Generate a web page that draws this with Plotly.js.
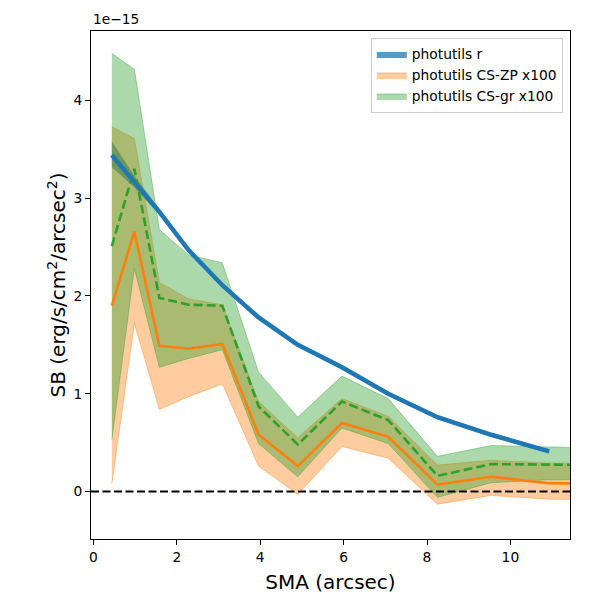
<!DOCTYPE html>
<html>
<head>
<meta charset="utf-8">
<script src="https://cdn.plot.ly/plotly-3.0.1.min.js"></script>
<style>html,body{margin:0;padding:0;background:#fff}#plot{width:600px;height:600px}</style>
</head>
<body>
<div id="plot"></div>
<script>
// Values in units of 1e-15 erg/s/cm^2/arcsec^2
const sma = [0.44, 0.98, 1.58, 2.28, 3.09, 3.96, 4.90, 5.96, 7.07, 8.25, 9.54, 10.93, 12.40];

const rSB    = [3.44, 3.17, 2.86, 2.47, 2.11, 1.78, 1.50, 1.27, 1.00, 0.76, 0.58, 0.41];
const rUpper = [3.58, 3.23, 2.89, 2.49, 2.13, 1.80, 1.52, 1.29, 1.02, 0.78, 0.60, 0.43];
const rLower = [3.32, 3.11, 2.83, 2.45, 2.09, 1.76, 1.48, 1.25, 0.98, 0.74, 0.56, 0.39];

const zpSB    = [1.90, 2.66, 1.49, 1.46, 1.51, 0.58, 0.26, 0.70, 0.56, 0.07, 0.15, 0.085, 0.08];
const zpUpper = [3.73, 3.61, 2.14, 1.97, 1.91, 0.92, 0.55, 0.95, 0.77, 0.27, 0.32, 0.29, 0.29];
const zpLower = [0.08, 1.72, 0.84, 0.97, 1.10, 0.26, -0.03, 0.46, 0.34, -0.13, -0.04, -0.08, -0.08];

const grSB    = [2.51, 3.30, 1.98, 1.91, 1.90, 0.87, 0.48, 0.92, 0.73, 0.16, 0.28, 0.28, 0.27];
const grUpper = [4.48, 4.32, 2.68, 2.42, 2.34, 1.22, 0.76, 1.18, 0.95, 0.36, 0.47, 0.45, 0.44];
const grLower = [0.53, 2.28, 1.27, 1.36, 1.45, 0.49, 0.15, 0.65, 0.49, -0.06, 0.09, 0.12, 0.12];

const xTicks = [0, 2, 4, 6, 8, 10];
const yTicks = [0, 1, 2, 3, 4];

function band(x, up, lo, name, fill, edge) {
  const n = up.length;
  const xs = x.slice(0, n);
  return {
    x: xs.concat(xs.slice().reverse()),
    y: up.concat(lo.slice().reverse()),
    fill: 'toself', fillcolor: fill, mode: 'lines',
    line: {color: edge, width: 1}, name: name, hoverinfo: 'skip'
  };
}

const traces = [
  band(sma, rUpper, rLower, 'photutils r', 'rgba(31,119,180,0.75)', 'rgba(31,119,180,0)'),
  band(sma, zpUpper, zpLower, 'photutils CS-ZP x100', 'rgba(255,127,14,0.4)', 'rgba(255,127,14,0.4)'),
  band(sma, grUpper, grLower, 'photutils CS-gr x100', 'rgba(44,160,44,0.4)', 'rgba(44,160,44,0.4)'),
  {x: sma, y: zpSB, mode: 'lines', line: {color: '#ff7f0e', width: 2.6}, showlegend: false},
  {x: sma, y: grSB, mode: 'lines', line: {color: '#2ca02c', width: 2.6, dash: '9px,4px'}, showlegend: false},
  {x: sma.slice(0, rSB.length), y: rSB, mode: 'lines', line: {color: '#1f77b4', width: 4.5}, showlegend: false}
];

const font = {family: 'DejaVu Sans', color: '#000'};

const layout = {
  width: 600, height: 600,
  margin: {l: 91, r: 30, t: 31, b: 61},
  paper_bgcolor: '#fff', plot_bgcolor: '#fff',
  font: Object.assign({size: 13.8}, font),
  showlegend: true,
  legend: {
    x: 0.985, y: 0.987, xanchor: 'right', yanchor: 'top',
    bordercolor: '#cccccc', borderwidth: 1, bgcolor: 'rgba(255,255,255,0.8)',
    font: Object.assign({size: 13.8}, font), tracegroupgap: 0
  },
  xaxis: {
    range: [-0.06, 11.43], tickvals: xTicks, ticktext: xTicks.map(String),
    ticks: 'outside', ticklen: 5, tickwidth: 1, tickcolor: '#000',
    showline: true, linecolor: '#000', linewidth: 1, mirror: true,
    showgrid: false, zeroline: false,
    tickfont: Object.assign({size: 13.8}, font),
    title: {text: 'SMA (arcsec)', font: Object.assign({size: 20}, font), standoff: 11}
  },
  yaxis: {
    range: [-0.486, 4.71], tickvals: yTicks, ticktext: yTicks.map(String),
    ticks: 'outside', ticklen: 5, tickwidth: 1, tickcolor: '#000',
    showline: true, linecolor: '#000', linewidth: 1, mirror: true,
    showgrid: false, zeroline: false,
    tickfont: Object.assign({size: 13.8}, font),
    title: {text: 'SB (erg/s/cm<sup>2</sup>/arcsec<sup>2</sup>)', font: Object.assign({size: 20}, font), standoff: 2}
  },
  shapes: [{
    type: 'line', xref: 'paper', x0: 0, x1: 1, yref: 'y', y0: 0, y1: 0,
    line: {color: '#000', width: 2, dash: '8px,3.5px'}, layer: 'above'
  }],
  annotations: [{
    text: '1e\u221215', xref: 'paper', yref: 'paper', x: 0, y: 1,
    xanchor: 'left', yanchor: 'bottom', showarrow: false,
    font: Object.assign({size: 13.8}, font), yshift: 2
  }]
};

Plotly.newPlot('plot', traces, layout, {displayModeBar: false, staticPlot: true});
</script>
</body>
</html>
